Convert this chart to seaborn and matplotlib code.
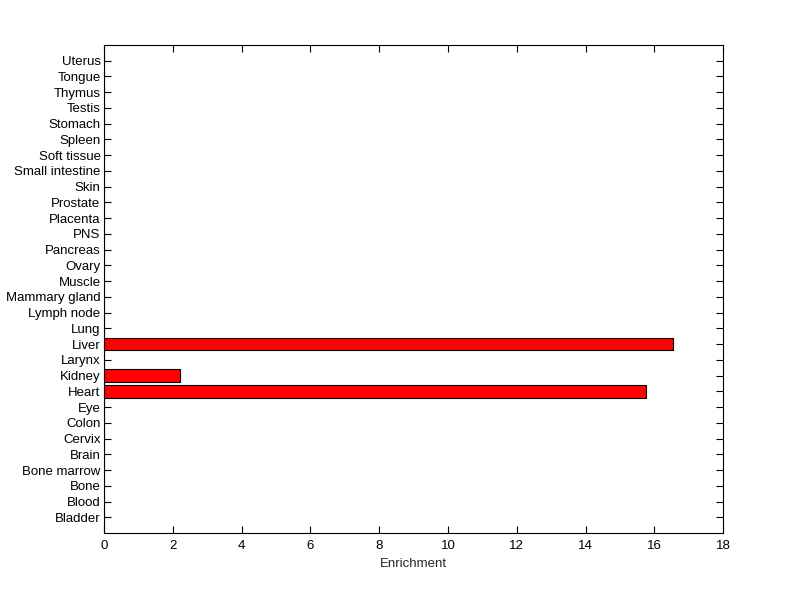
"""
Tissue enrichment bar chart (MATLAB-style horizontal bars).
"""

import matplotlib
matplotlib.use("Agg")
import matplotlib.pyplot as plt
import seaborn as sns
import pandas as pd

# Categories listed bottom to top, as in the reference
tissues = ['Bladder', 'Blood', 'Bone', 'Bone marrow', 'Brain', 'Cervix', 'Colon',
           'Eye', 'Heart', 'Kidney', 'Larynx', 'Liver', 'Lung', 'Lymph node',
           'Mammary gland', 'Muscle', 'Ovary', 'Pancreas', 'PNS', 'Placenta',
           'Prostate', 'Skin', 'Small intestine', 'Soft tissue', 'Spleen',
           'Stomach', 'Testis', 'Thymus', 'Tongue', 'Uterus']
enrichment = [0, 0, 0, 0, 0, 0, 0,
              0, 15.77, 2.22, 0, 16.55, 0, 0,
              0, 0, 0, 0, 0, 0,
              0, 0, 0, 0, 0,
              0, 0, 0, 0, 0]
x_ticks = [0, 2, 4, 6, 8, 10, 12, 14, 16, 18]

sns.set_style('white')
plt.rcParams['font.family'] = ['Liberation Sans', 'DejaVu Sans']

df = pd.DataFrame({'tissue': tissues, 'enrichment': enrichment})
# seaborn puts the first category on top, so reverse the order
order = tissues[::-1]

fig = plt.figure(figsize=(8, 5.99), dpi=100, facecolor='white')
ax = fig.add_axes([0.13, 0.11, 0.774, 0.815])

sns.barplot(data=df, x='enrichment', y='tissue', order=order, orient='h',
            color='#ff0000', saturation=1, width=0.8,
            edgecolor='black', linewidth=0.8, ax=ax)

n = len(tissues)
ax.set_ylim(n, -1)
ax.set_xlim(0, 18)
ax.set_xticks(x_ticks)
ax.set_xticklabels([str(t) for t in x_ticks])

ax.set_xlabel('Enrichment', fontsize=9.5, labelpad=4)
ax.set_ylabel('')

ax.tick_params(axis='both', direction='in', length=5, width=0.8,
               labelsize=9.5, color='black', labelcolor='black',
               bottom=True, left=True, top=True, right=True)
ax.tick_params(axis='x', pad=5)
ax.tick_params(axis='y', pad=2.5)
for side in ax.spines.values():
    side.set_visible(True)
    side.set_color('black')
    side.set_linewidth(0.8)

fig.savefig('out.png', dpi=100, facecolor='white')
